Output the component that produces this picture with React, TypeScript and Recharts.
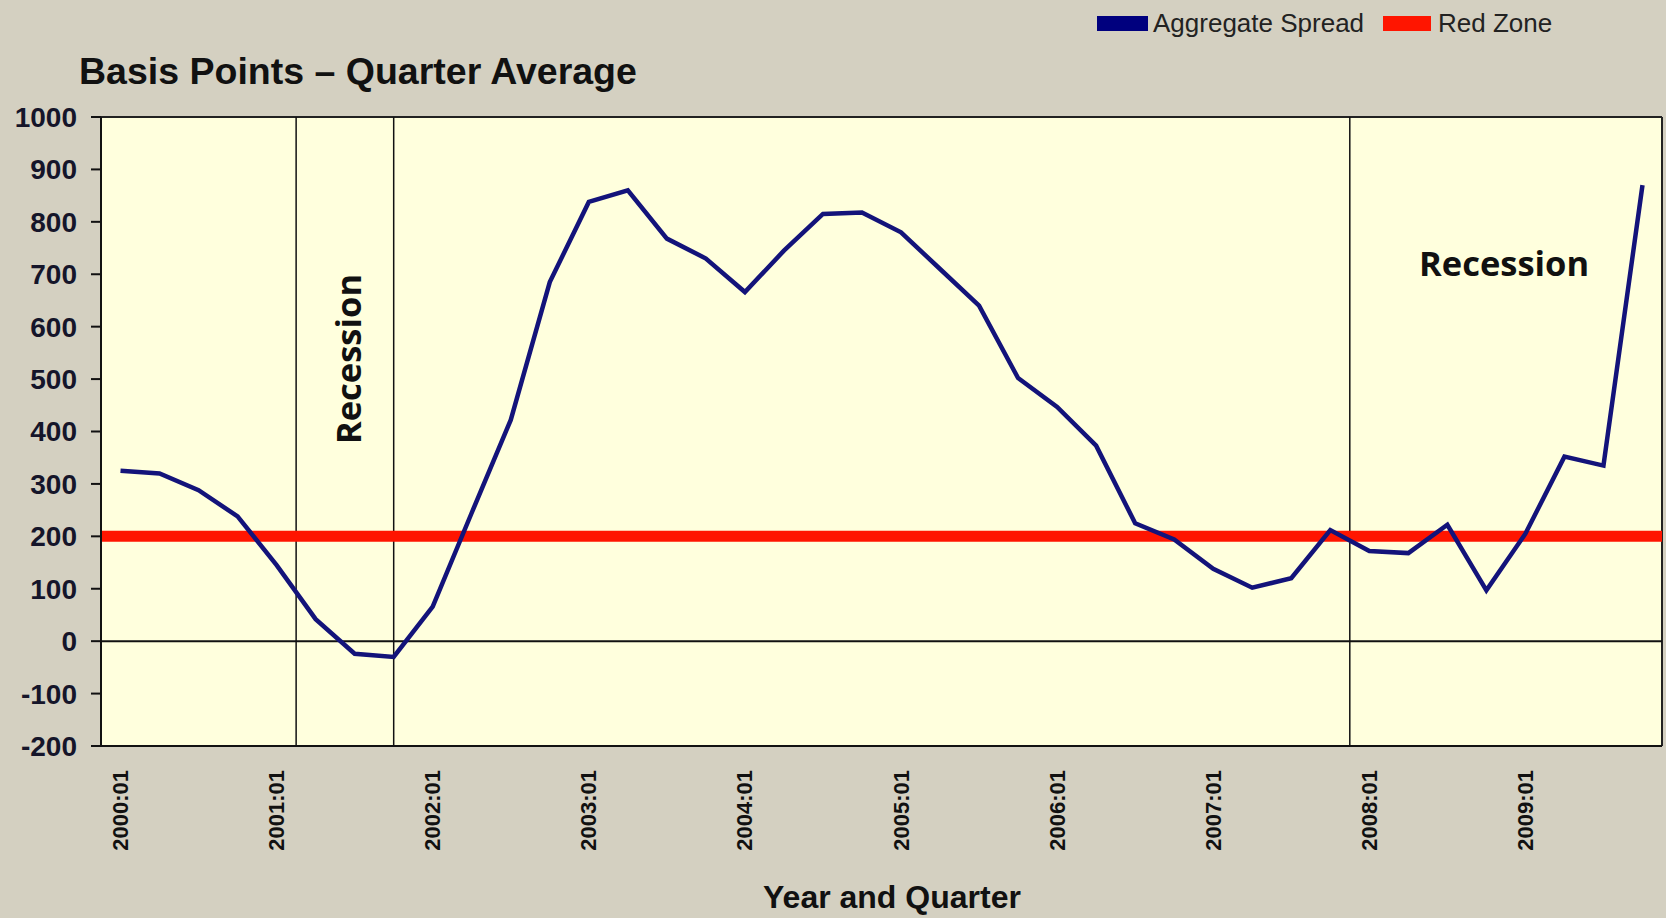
import { LineChart, Line, XAxis, YAxis, ReferenceLine, CartesianGrid } from 'recharts';

// quarters 2000:01 .. 2009:04
const years = [2000, 2001, 2002, 2003, 2004, 2005, 2006, 2007, 2008, 2009];
const quarterNums = ['01', '02', '03', '04'];
const quarters = years.flatMap((y) => quarterNums.map((q) => `${y}:${q}`));

// basis points
const aggregateSpread = [
  325, 320, 288, 238, 145, 42, -24, -30, 66, 245,
  422, 685, 838, 860, 768, 730, 666, 745, 815, 818,
  780, 710, 640, 502, 447, 373, 225, 194, 138, 102,
  120, 212, 172, 168, 222, 97, 205, 352, 335, 870,
];

const redZone = 200;
const yTicks = [-200, -100, 0, 100, 200, 300, 400, 500, 600, 700, 800, 900, 1000];

const data = quarters.map((quarter, i) => ({ quarter, spread: aggregateSpread[i] }));

const FONT = '"Liberation Sans", Arial, sans-serif';
const NAVY = '#13137a';
const RED = '#ff1500';

const QuarterTick = ({ x, y, payload }: any) => {
  const ty = y + 24;
  return (
    <text
      x={x}
      y={ty}
      transform={`rotate(-90 ${x} ${ty})`}
      textAnchor="end"
      dominantBaseline="central"
      fontFamily={FONT}
      fontSize={22}
      fontWeight="bold"
      fill="#111"
    >
      {payload.value}
    </text>
  );
};

export default function App() {
  return (
    <div
      style={{
        position: 'absolute',
        left: 0,
        top: 0,
        width: 1666,
        height: 918,
        background: '#d4d0c1',
        fontFamily: FONT,
        overflow: 'hidden',
      }}
    >
      <LineChart
        width={1666}
        height={918}
        data={data}
        margin={{ top: 117, right: 4, bottom: 0, left: 0 }}
      >
        <CartesianGrid horizontal={false} vertical={false} fill="#ffffdd" />
        <XAxis
          dataKey="quarter"
          scale="band"
          interval={3}
          height={172}
          tickSize={0}
          tickMargin={0}
          tick={<QuarterTick />}
          axisLine={{ stroke: '#111', strokeWidth: 2 }}
          tickLine={false}
        />
        <YAxis
          type="number"
          domain={[-200, 1000]}
          ticks={yTicks}
          width={101}
          tickSize={10}
          tickMargin={14}
          interval={0}
          axisLine={{ stroke: '#111', strokeWidth: 2 }}
          tickLine={{ stroke: '#111', strokeWidth: 2 }}
          tick={{ fontSize: 28, fontWeight: 'bold', fill: '#15152a', fontFamily: FONT }}
        />
        {/* plot frame */}
        <ReferenceLine y={1000} stroke="#222" strokeWidth={2} />
        <ReferenceLine x="2009:04" position="end" stroke="#222" strokeWidth={2} />
        <ReferenceLine y={0} stroke="#111" strokeWidth={2} />
        {/* recession markers */}
        <ReferenceLine x="2001:02" position="start" stroke="#111" strokeWidth={1.5} />
        <ReferenceLine x="2001:04" position="middle" stroke="#111" strokeWidth={1.5} />
        <ReferenceLine x="2008:01" position="start" stroke="#111" strokeWidth={1.5} />
        <ReferenceLine y={redZone} stroke={RED} strokeWidth={11} />
        <Line
          type="linear"
          dataKey="spread"
          stroke={NAVY}
          strokeWidth={4.5}
          dot={false}
          isAnimationActive={false}
        />
      </LineChart>

      {/* title */}
      <div
        style={{
          position: 'absolute',
          left: 79,
          top: 53,
          fontSize: 37.5,
          lineHeight: '37.5px',
          fontWeight: 'bold',
          color: '#111',
          whiteSpace: 'nowrap',
        }}
      >
        Basis Points – Quarter Average
      </div>

      {/* legend */}
      <div style={{ position: 'absolute', left: 1097, top: 16, width: 51, height: 15, background: '#00007e' }} />
      <div
        style={{ position: 'absolute', left: 1153, top: 10, fontSize: 26, lineHeight: '26px', color: '#222', whiteSpace: 'nowrap' }}
      >
        Aggregate Spread
      </div>
      <div style={{ position: 'absolute', left: 1383, top: 16, width: 48, height: 15, background: RED }} />
      <div
        style={{ position: 'absolute', left: 1438, top: 10, fontSize: 26, lineHeight: '26px', color: '#222', whiteSpace: 'nowrap' }}
      >
        Red Zone
      </div>

      {/* recession annotations */}
      <div
        style={{
          position: 'absolute',
          left: 347.5 - 100,
          top: 359 - 20,
          width: 200,
          height: 40,
          lineHeight: '40px',
          textAlign: 'center',
          transform: 'rotate(-90deg)',
          fontFamily: '"Open Sans", sans-serif',
          fontWeight: 'bold',
          fontSize: 34.5,
          color: '#111',
        }}
      >
        Recession
      </div>
      <div
        style={{
          position: 'absolute',
          left: 1419,
          top: 246,
          lineHeight: '34px',
          fontFamily: '"Open Sans", sans-serif',
          fontWeight: 'bold',
          fontSize: 34.5,
          color: '#111',
          whiteSpace: 'nowrap',
        }}
      >
        Recession
      </div>

      {/* x-axis title */}
      <div
        style={{
          position: 'absolute',
          left: 763,
          top: 881,
          fontSize: 32,
          lineHeight: '32px',
          fontWeight: 'bold',
          color: '#111',
          whiteSpace: 'nowrap',
        }}
      >
        Year and Quarter
      </div>
    </div>
  );
}
